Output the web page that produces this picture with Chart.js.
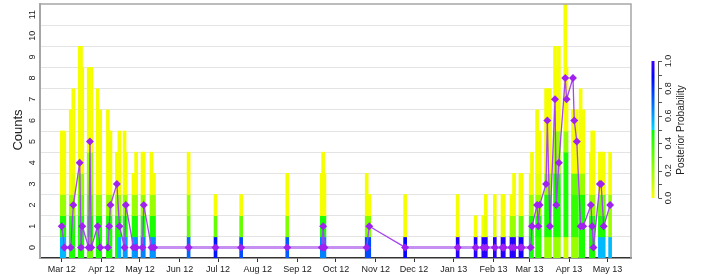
<!DOCTYPE html>
<html>
<head>
<meta charset="utf-8">
<script src="https://cdn.jsdelivr.net/npm/chart.js@4"></script>
<style>
html, body { margin: 0; padding: 0; background: #fff; }
</style>
</head>
<body>
<canvas id="chart" width="706" height="275"></canvas>
<script>
// days counted from 1 Mar 2012
var monthDays = [0, 31, 61, 92, 122, 153, 184, 214, 245, 275, 306, 337, 365, 396, 426];
var monthLabels = ['Mar 12', 'Apr 12', 'May 12', 'Jun 12', 'Jul 12', 'Aug 12', 'Sep 12', 'Oct 12',
	'Nov 12', 'Dec 12', 'Jan 13', 'Feb 13', 'Mar 13', 'Apr 13', 'May 13'];
var countTicks = [0, 1, 2, 3, 4, 5, 6, 7, 8, 9, 10, 11];
var probTicks = [0.0, 0.2, 0.4, 0.6, 0.8, 1.0];

// observed counts (purple line)
var obsDays = [0, 2, 7, 9, 14, 15, 16, 21, 22, 23,
	28, 30, 36, 37, 38, 43, 45, 49, 50, 56,
	58, 63, 64, 70, 72, 99, 120, 140, 176, 203,
	204, 205, 238, 240, 268, 309, 323, 329, 331, 338,
	344, 345, 351, 353, 358, 359, 366, 367, 371, 372,
	373, 378, 379, 381, 385, 386, 388, 393, 394, 399,
	400, 402, 405, 407, 413, 414, 415, 420, 421, 423,
	428];
var obsCounts = [1, 0, 0, 2, 4, 0, 1, 0, 5, 0,
	1, 0, 0, 1, 2, 3, 1, 0, 2, 0,
	0, 0, 2, 0, 0, 0, 0, 0, 0, 0,
	1, 0, 0, 1, 0, 0, 0, 0, 0, 0,
	0, 0, 0, 0, 0, 0, 0, 1, 2, 1,
	2, 3, 6, 1, 7, 2, 4, 8, 7, 8,
	6, 5, 1, 1, 2, 1, 0, 3, 3, 1,
	2];

// posterior probability for count levels 0,1,2,... on each observation day
var cellProbs = [
	[0.55, 0.45, 0.2, 0.02, 0.02, 0.02],
	[0.55, 0.45, 0.2, 0.02, 0.02, 0.02],
	[0.45, 0.45, 0.2, 0.02, 0.02, 0.02, 0.02],
	[0.45, 0.45, 0.2, 0.05, 0.02, 0.02, 0.02, 0.02],
	[0.45, 0.45, 0.3, 0.2, 0.02, 0.02, 0.02, 0.02, 0.02, 0.02],
	[0.45, 0.45, 0.3, 0.2, 0.02, 0.02, 0.02, 0.02, 0.02, 0.02],
	[0.45, 0.45, 0.3, 0.2, 0.02, 0.02, 0.02, 0.02, 0.02],
	[0.3, 0.45, 0.3, 0.2, 0.2, 0.02, 0.02, 0.02, 0.02],
	[0.3, 0.45, 0.3, 0.2, 0.2, 0.02, 0.02, 0.02, 0.02],
	[0.3, 0.45, 0.3, 0.2, 0.2, 0.02, 0.02, 0.02, 0.02],
	[0.45, 0.45, 0.2, 0.02, 0.02, 0.02, 0.02, 0.02],
	[0.45, 0.45, 0.2, 0.02, 0.02, 0.02, 0.02],
	[0.45, 0.45, 0.2, 0.02, 0.02, 0.02, 0.02],
	[0.45, 0.45, 0.2, 0.02, 0.02, 0.02],
	[0.45, 0.45, 0.2, 0.02, 0.02, 0.02],
	[0.45, 0.45, 0.2, 0.02, 0.02],
	[0.55, 0.45, 0.2, 0.02, 0.02, 0.02],
	[0.6, 0.45, 0.2, 0.02, 0.02, 0.02],
	[0.6, 0.45, 0.2, 0.02, 0.02],
	[0.6, 0.45, 0.2, 0.02],
	[0.62, 0.45, 0.2, 0.02, 0.02],
	[0.65, 0.45, 0.2, 0.02, 0.02],
	[0.65, 0.45, 0.2, 0.02, 0.02],
	[0.62, 0.45, 0.2, 0.02, 0.02],
	[0.62, 0.45, 0.2, 0.02],
	[0.7, 0.3, 0.2, 0.02, 0.02],
	[0.85, 0.3, 0.02],
	[0.75, 0.3, 0.02],
	[0.72, 0.25, 0.02, 0.02],
	[0.65, 0.45, 0.02, 0.02],
	[0.65, 0.45, 0.02, 0.02, 0.02],
	[0.65, 0.45, 0.02, 0.02],
	[0.75, 0.25, 0.02, 0.02],
	[0.75, 0.25, 0.02],
	[0.88, 0.02, 0.02],
	[0.95, 0.02, 0.02],
	[0.95, 0.02],
	[0.95, 0.02],
	[0.95, 0.05, 0.02],
	[0.95, 0.05, 0.02],
	[0.95, 0.05, 0.02],
	[0.95, 0.05, 0.02],
	[0.95, 0.2, 0.02],
	[0.95, 0.2, 0.02, 0.02],
	[0.92, 0.3, 0.02, 0.02],
	[0.92, 0.3, 0.02, 0.02],
	[0.55, 0.45, 0.2, 0.02],
	[0.45, 0.45, 0.2, 0.02, 0.02],
	[0.4, 0.45, 0.2, 0.05, 0.02, 0.02, 0.02],
	[0.4, 0.45, 0.2, 0.05, 0.02, 0.02],
	[0.4, 0.45, 0.2, 0.05, 0.02, 0.02],
	[0.2, 0.45, 0.45, 0.2, 0.02, 0.02, 0.02, 0.02],
	[0.2, 0.45, 0.45, 0.2, 0.02, 0.02, 0.02, 0.02],
	[0.2, 0.45, 0.45, 0.2, 0.02, 0.02, 0.02, 0.02],
	[0.2, 0.45, 0.45, 0.45, 0.2, 0.2, 0.02, 0.02, 0.02, 0.02],
	[0.2, 0.45, 0.45, 0.45, 0.2, 0.2, 0.02, 0.02, 0.02],
	[0.2, 0.45, 0.45, 0.45, 0.2, 0.2, 0.02, 0.02, 0.02, 0.02],
	[0.1, 0.45, 0.45, 0.45, 0.45, 0.2, 0.02, 0.02, 0.02, 0.02, 0.02, 0.02, 0.02],
	[0.1, 0.45, 0.45, 0.45, 0.45, 0.2, 0.02, 0.02, 0.02],
	[0.2, 0.4, 0.4, 0.3, 0.02, 0.02, 0.02],
	[0.2, 0.4, 0.4, 0.3, 0.02, 0.02, 0.02],
	[0.2, 0.4, 0.4, 0.3, 0.02, 0.02, 0.02],
	[0.45, 0.45, 0.45, 0.2, 0.02, 0.02, 0.02, 0.02],
	[0.45, 0.45, 0.45, 0.2, 0.02, 0.02, 0.02],
	[0.45, 0.45, 0.2, 0.02, 0.02],
	[0.45, 0.45, 0.2, 0.02, 0.02, 0.02],
	[0.45, 0.45, 0.2, 0.02, 0.02, 0.02],
	[0.55, 0.45, 0.3, 0.02, 0.02],
	[0.55, 0.45, 0.3, 0.02, 0.02],
	[0.55, 0.45, 0.3, 0.02, 0.02],
	[0.55, 0.2, 0.2, 0.02, 0.02]
];

var FONT = "'Liberation Sans', Arial, Helvetica, sans-serif";

// yellow -> green below 0.5, cyan -> blue/violet above
function probColor(p) {
	var h = p < 0.5 ? 60 + 120 * p : 190 + 130 * (p - 0.5);
	return 'hsl(' + h.toFixed(1) + ',100%,50%)';
}

var cells = [];
var cellColors = [];
for (i = 0; i < obsDays.length; i++) {
	var probs = cellProbs[i];
	for (j = 0; j < probs.length; j++) {
		cells.push({x: obsDays[i], y: [j - 0.5, j + 0.5]});
		cellColors.push(probColor(probs[j]));
	}
}

var points = obsDays.map(function(d, i) { return {x: d, y: obsCounts[i]}; });

function isFlatZero(c) {
	return c.p0.parsed.y === 0 && c.p1.parsed.y === 0;
}

function rotText(ctx, text, x, y, font) {
	ctx.save();
	ctx.translate(x, y);
	ctx.rotate(-Math.PI / 2);
	ctx.font = font;
	ctx.textAlign = 'center';
	ctx.textBaseline = 'middle';
	ctx.fillText(text, 0, 0);
	ctx.restore();
}

var extras = {
	id: 'extras',
	afterDraw: function(chart) {
		var ctx = chart.ctx;
		var a = chart.chartArea;
		var ys = chart.scales.y;

		// frame top / right
		ctx.save();
		ctx.strokeStyle = '#a6a6a6';
		ctx.lineWidth = 1.5;
		ctx.beginPath();
		ctx.moveTo(a.left, a.top);
		ctx.lineTo(a.right, a.top);
		ctx.lineTo(a.right, a.bottom);
		ctx.stroke();
		ctx.restore();

		ctx.fillStyle = '#222';
		countTicks.forEach(function(v) {
			rotText(ctx, String(v), 33, ys.getPixelForValue(v), '9px ' + FONT);
		});
		rotText(ctx, 'Counts', 18, 130, '13px ' + FONT);

		// colour key
		var top = 61, bottom = 198, bx = 651.5, bw = 3;
		for (y = top; y < bottom; y++) {
			ctx.fillStyle = probColor((bottom - y - 0.5) / (bottom - top));
			ctx.fillRect(bx, y, bw, 1);
		}
		ctx.save();
		ctx.strokeStyle = '#555';
		ctx.lineWidth = 1;
		ctx.beginPath();
		ctx.moveTo(658.5, top);
		ctx.lineTo(658.5, bottom);
		for (k = 0; k <= 10; k++) {
			var ty = Math.round(bottom - k / 10 * (bottom - top)) + 0.5;
			ctx.moveTo(658.5, ty);
			ctx.lineTo(662, ty);
		}
		ctx.stroke();
		ctx.restore();
		ctx.fillStyle = '#222';
		probTicks.forEach(function(p) {
			rotText(ctx, p.toFixed(1), 669, bottom - p * (bottom - top), '9px ' + FONT);
		});
		rotText(ctx, 'Posterior Probability', 681, 130, '10px ' + FONT);
	}
};

new Chart(document.getElementById('chart'), {
	type: 'bar',
	data: {
		datasets: [{
			type: 'line',
			data: points,
			order: 0,
			borderColor: '#a445f0',
			borderWidth: 1.3,
			tension: 0,
			pointStyle: 'rectRot',
			pointRadius: 4,
			pointBackgroundColor: '#a020f0',
			pointBorderWidth: 0,
			segment: {
				borderWidth: function(c) { return isFlatZero(c) ? 3 : 1.3; },
				borderColor: function(c) { return isFlatZero(c) ? '#c690f2' : '#a445f0'; }
			}
		}, {
			type: 'bar',
			data: cells,
			order: 1,
			backgroundColor: cellColors,
			borderWidth: 0,
			barThickness: 3,
			grouped: false
		}]
	},
	options: {
		responsive: false,
		devicePixelRatio: 1,
		animation: false,
		layout: { padding: { top: 1, right: 75, left: 0, bottom: 0 } },
		plugins: { legend: { display: false }, tooltip: { enabled: false } },
		scales: {
			x: {
				type: 'linear',
				min: -17,
				max: 444.3,
				offset: false,
				afterBuildTicks: function(s) { s.ticks = monthDays.map(function(v) { return {value: v}; }); },
				afterFit: function(s) { s.height = 17; },
				ticks: {
					autoSkip: false, maxRotation: 0, minRotation: 0, padding: 2,
					color: '#222', font: { family: FONT, size: 9 },
					callback: function(v, i) { return monthLabels[i]; }
				},
				grid: { drawOnChartArea: false, drawTicks: true, tickLength: 4, color: '#333', offset: false },
				border: { color: '#333', width: 1.5 }
			},
			y: {
				min: -0.5,
				max: 11.5,
				afterBuildTicks: function(s) { s.ticks = countTicks.slice(0, 11).map(function(v) { return {value: v + 0.5}; }); },
				afterFit: function(s) { s.width = 40; },
				ticks: { display: false },
				grid: { color: '#e4e4e4', lineWidth: 1, drawTicks: false },
				border: { color: '#a6a6a6', width: 2 }
			}
		}
	},
	plugins: [extras]
});
</script>
</body>
</html>
